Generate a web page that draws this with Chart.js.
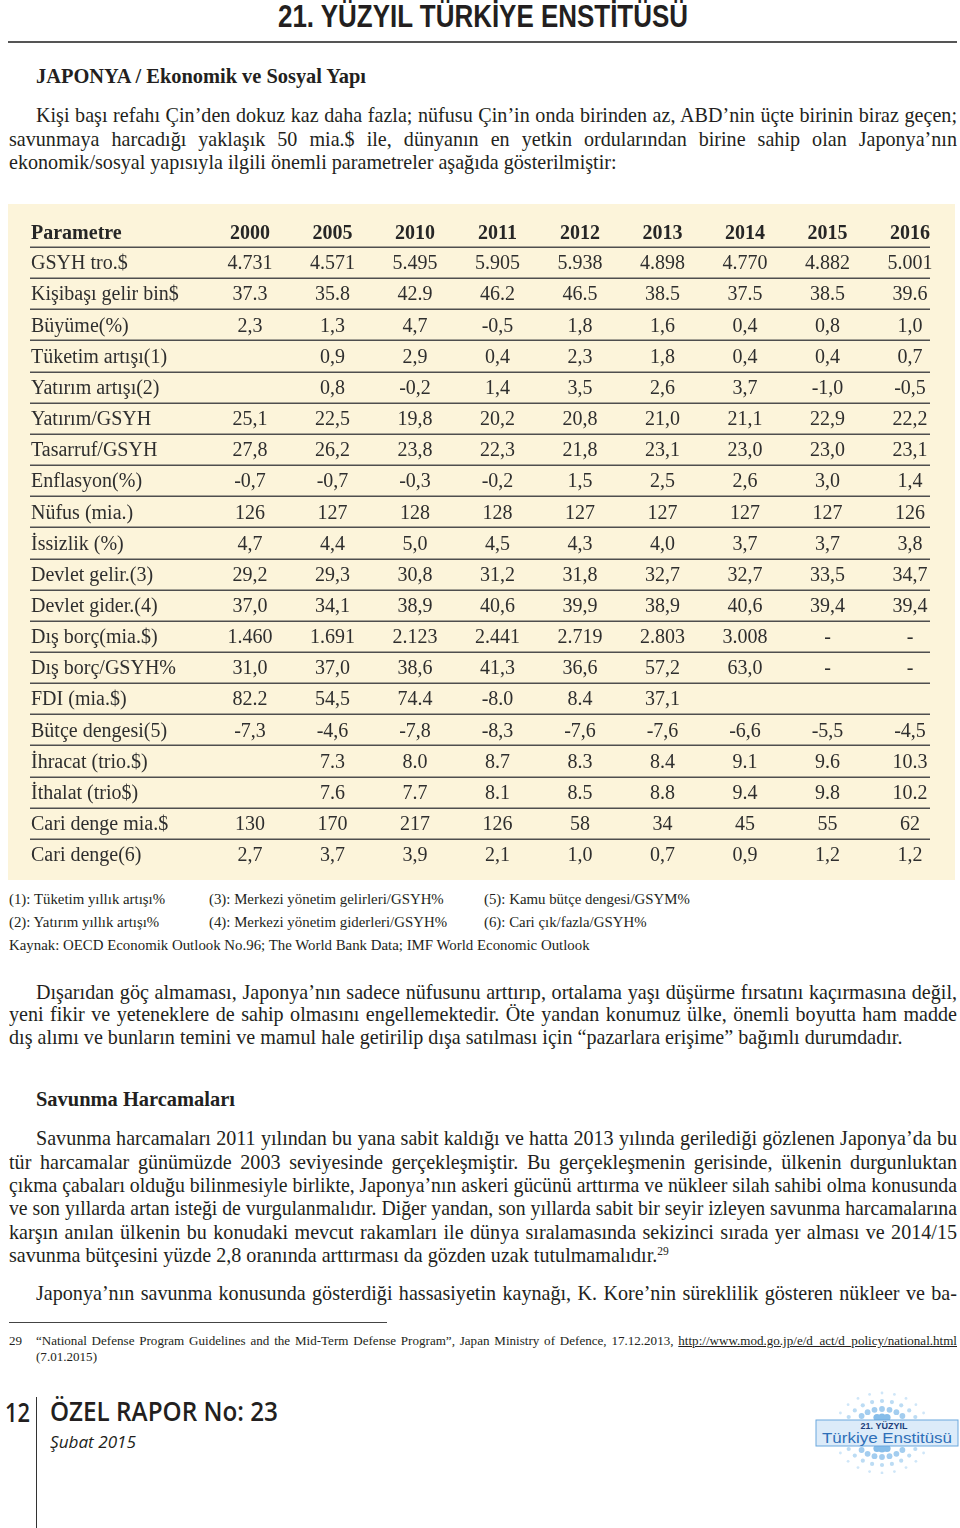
<!DOCTYPE html>
<html><head><meta charset="utf-8">
<script src="https://cdn.jsdelivr.net/npm/chart.js@4.4.1/dist/chart.umd.min.js"></script>
<style>
html,body{margin:0;padding:0;background:#fff;}
body{width:960px;height:1528px;position:relative;overflow:hidden;color:#231f20;}
.ln{position:absolute;white-space:nowrap;transform-origin:0 50%;font-family:'Liberation Serif','Times New Roman',serif;}
.p{font-size:21px;line-height:24px;}
.h{font-size:21px;line-height:24px;font-weight:bold;}
.fn{font-size:15px;line-height:18px;}
.f29{font-size:13.5px;line-height:16px;}
.sans{font-family:'Open Sans','Liberation Sans',sans-serif;}
#title{font-family:'Liberation Sans',Arial,sans-serif;font-weight:bold;font-size:31px;line-height:34px;}
#rule1{position:absolute;left:8px;top:41px;width:949px;height:2px;background:#555;}
#rule2{position:absolute;left:9px;top:1322px;width:378px;height:1px;background:#444;}
#vline{position:absolute;left:36px;top:1397px;width:1px;height:131px;background:#333;}
#tbl{position:absolute;left:8px;top:204px;width:947px;height:676px;background:#fcf4da;}
sup{font-size:12px;vertical-align:7px;line-height:0;}
a{color:#231f20;text-decoration:underline;}
#logo{position:absolute;left:812px;top:1390px;}
</style></head>
<body>
<div class="ln" id="title" data-x="278" data-y="17" data-fit="410">21. YÜZYIL TÜRKİYE ENSTİTÜSÜ</div>
<div id="rule1"></div>

<div class="ln h" data-x="36" data-y="76" data-fit="330">JAPONYA / Ekonomik ve Sosyal Yapı</div>

<div class="ln p" data-g="p" data-x="36" data-y="115" data-w="921">Kişi başı refahı Çin’den dokuz kaz daha fazla; nüfusu Çin’in onda birinden az, ABD’nin üçte birinin biraz geçen;</div>
<div class="ln p" data-g="p" data-x="9" data-y="139" data-w="948">savunmaya harcadığı yaklaşık 50 mia.$ ile, dünyanın en yetkin ordularından birine sahip olan Japonya’nın</div>
<div class="ln p" data-g="p" data-x="9" data-y="162" data-ref="588">ekonomik/sosyal yapısıyla ilgili önemli parametreler aşağıda gösterilmiştir:</div>

<div id="tbl"><canvas id="chart" width="947" height="676"></canvas></div>

<div class="ln fn" data-g="fn" data-x="9" data-y="899">(1): Tüketim yıllık artışı%</div>
<div class="ln fn" data-g="fn" data-x="209" data-y="899" data-ref="235">(3): Merkezi yönetim gelirleri/GSYH%</div>
<div class="ln fn" data-g="fn" data-x="484" data-y="899">(5): Kamu bütçe dengesi/GSYM%</div>
<div class="ln fn" data-g="fn" data-x="9" data-y="922">(2): Yatırım yıllık artışı%</div>
<div class="ln fn" data-g="fn" data-x="209" data-y="922">(4): Merkezi yönetim giderleri/GSYH%</div>
<div class="ln fn" data-g="fn" data-x="484" data-y="922">(6): Cari çık/fazla/GSYH%</div>
<div class="ln fn" data-g="fn" data-x="9" data-y="945" data-ref="580">Kaynak: OECD Economik Outlook No.96; The World Bank Data; IMF World Economic Outlook</div>

<div class="ln p" data-g="p" data-x="36" data-y="992" data-w="921">Dışarıdan göç almaması, Japonya’nın sadece nüfusunu arttırıp, ortalama yaşı düşürme fırsatını kaçırmasına değil,</div>
<div class="ln p" data-g="p" data-x="9" data-y="1014" data-w="948">yeni fikir ve yeteneklere de sahip olmasını engellemektedir. Öte yandan konumuz ülke, önemli boyutta ham madde</div>
<div class="ln p" data-g="p" data-x="9" data-y="1037" data-ref="907">dış alımı ve bunların temini ve mamul hale getirilip dışa satılması için “pazarlara erişime” bağımlı durumdadır.</div>

<div class="ln h" data-x="36" data-y="1099" data-fit="199">Savunma Harcamaları</div>

<div class="ln p" data-g="p" data-x="36" data-y="1138" data-w="921">Savunma harcamaları 2011 yılından bu yana sabit kaldığı ve hatta 2013 yılında gerilediği gözlenen Japonya’da bu</div>
<div class="ln p" data-g="p" data-x="9" data-y="1162" data-w="948">tür harcamalar günümüzde 2003 seviyesinde gerçekleşmiştir. Bu gerçekleşmenin gerisinde, ülkenin durgunluktan</div>
<div class="ln p" data-g="p" data-x="9" data-y="1185" data-w="948">çıkma çabaları olduğu bilinmesiyle birlikte, Japonya’nın askeri gücünü arttırma ve nükleer silah sahibi olma konusunda</div>
<div class="ln p" data-g="p" data-x="9" data-y="1208" data-w="948">ve son yıllarda artan isteği de vurgulanmalıdır. Diğer yandan, son yıllarda sabit bir seyir izleyen savunma harcamalarına</div>
<div class="ln p" data-g="p" data-x="9" data-y="1232" data-w="948">karşın anılan ülkenin bu konudaki mevcut rakamları ile dünya sıralamasında sekizinci sırada yer alması ve 2014/15</div>
<div class="ln p" data-g="p" data-x="9" data-y="1255" data-ref="671">savunma bütçesini yüzde 2,8 oranında arttırması da gözden uzak tutulmamalıdır.<sup>29</sup></div>

<div class="ln p" data-g="p" data-x="36" data-y="1293" data-w="921">Japonya’nın savunma konusunda gösterdiği hassasiyetin kaynağı, K. Kore’nin süreklilik gösteren nükleer ve ba-</div>

<div id="rule2"></div>
<div class="ln f29" data-g="f29" data-x="9" data-y="1341">29</div>
<div class="ln f29" data-g="f29" data-x="36" data-y="1341" data-w="921">“National Defense Program Guidelines and the Mid-Term Defense Program”, Japan Ministry of Defence, 17.12.2013, <a>http://www.mod.go.jp/e/d_act/d_policy/national.html</a></div>
<div class="ln f29" data-g="f29" data-x="36" data-y="1357" data-ref="61">(7.01.2015)</div>

<div class="ln sans" style="font-weight:600;font-size:27px;line-height:32px;" data-x="5" data-y="1412" data-fit="25">12</div>
<div id="vline"></div>
<div class="ln sans" style="font-weight:600;font-size:27px;line-height:32px;" data-x="50" data-y="1411" data-fit="228">ÖZEL RAPOR No: 23</div>
<div class="ln sans" style="font-style:italic;font-size:17px;line-height:22px;" data-x="50" data-y="1442" data-fit="86">Şubat 2015</div>

<svg id="logo" width="148" height="84" viewBox="0 0 148 84"></svg>

<script>
// ---------- table data ----------
const years = ['2000','2005','2010','2011','2012','2013','2014','2015','2016'];
const params = ['GSYH tro.$','Kişibaşı gelir bin$','Büyüme(%)','Tüketim artışı(1)','Yatırım artışı(2)','Yatırım/GSYH','Tasarruf/GSYH','Enflasyon(%)','Nüfus (mia.)','İssizlik (%)','Devlet gelir.(3)','Devlet gider.(4)','Dış borç(mia.$)','Dış borç/GSYH%','FDI (mia.$)','Bütçe dengesi(5)','İhracat (trio.$)','İthalat (trio$)','Cari denge mia.$','Cari denge(6)'];
const headerLabel = 'Parametre';
const gsyh        = ['4.731','4.571','5.495','5.905','5.938','4.898','4.770','4.882','5.001'];
const kisibasi    = ['37.3','35.8','42.9','46.2','46.5','38.5','37.5','38.5','39.6'];
const buyume      = ['2,3','1,3','4,7','-0,5','1,8','1,6','0,4','0,8','1,0'];
const tuketim     = ['','0,9','2,9','0,4','2,3','1,8','0,4','0,4','0,7'];
const yatirimArt  = ['','0,8','-0,2','1,4','3,5','2,6','3,7','-1,0','-0,5'];
const yatirimGsyh = ['25,1','22,5','19,8','20,2','20,8','21,0','21,1','22,9','22,2'];
const tasarruf    = ['27,8','26,2','23,8','22,3','21,8','23,1','23,0','23,0','23,1'];
const enflasyon   = ['-0,7','-0,7','-0,3','-0,2','1,5','2,5','2,6','3,0','1,4'];
const nufus       = ['126','127','128','128','127','127','127','127','126'];
const issizlik    = ['4,7','4,4','5,0','4,5','4,3','4,0','3,7','3,7','3,8'];
const devletGelir = ['29,2','29,3','30,8','31,2','31,8','32,7','32,7','33,5','34,7'];
const devletGider = ['37,0','34,1','38,9','40,6','39,9','38,9','40,6','39,4','39,4'];
const disBorc     = ['1.460','1.691','2.123','2.441','2.719','2.803','3.008','-','-'];
const disBorcGsyh = ['31,0','37,0','38,6','41,3','36,6','57,2','63,0','-','-'];
const fdi         = ['82.2','54,5','74.4','-8.0','8.4','37,1','','',''];
const butce       = ['-7,3','-4,6','-7,8','-8,3','-7,6','-7,6','-6,6','-5,5','-4,5'];
const ihracat     = ['','7.3','8.0','8.7','8.3','8.4','9.1','9.6','10.3'];
const ithalat     = ['','7.6','7.7','8.1','8.5','8.8','9.4','9.8','10.2'];
const cariMia     = ['130','170','217','126','58','34','45','55','62'];
const cariOran    = ['2,7','3,7','3,9','2,1','1,0','0,7','0,9','1,2','1,2'];
const rows = [gsyh,kisibasi,buyume,tuketim,yatirimArt,yatirimGsyh,tasarruf,enflasyon,nufus,issizlik,devletGelir,devletGider,disBorc,disBorcGsyh,fdi,butce,ihracat,ithalat,cariMia,cariOran];

// ---------- text layout helpers ----------
function layoutText(){
  const els = Array.from(document.querySelectorAll('.ln'));
  const groups = {};
  els.forEach(el=>{ el.style.left = el.dataset.x+'px'; el.style.top='0px'; });
  els.forEach(el=>{
    const g = el.dataset.g; if(!g) return;
    groups[g] = groups[g] || [];
    if(el.dataset.ref){ groups[g].push(parseFloat(el.dataset.ref)/el.getBoundingClientRect().width); }
  });
  const k = {};
  Object.keys(groups).forEach(g=>{ const a=groups[g]; k[g]= a.reduce((s,v)=>s+v,0)/a.length; });
  els.forEach(el=>{
    const w = el.getBoundingClientRect().width;
    const h = el.getBoundingClientRect().height;
    let s = 1;
    if(el.dataset.fit){ s = parseFloat(el.dataset.fit)/w; }
    else if(el.dataset.g){
      s = k[el.dataset.g];
      if(el.dataset.w){
        const target = parseFloat(el.dataset.w);
        const n = (el.textContent.trim().match(/ /g)||[]).length;
        const extra = target/s - w;
        if(extra >= 0 && n>0){ el.style.wordSpacing = (extra/n)+'px'; }
        else { s = target/w; }
      }
    }
    el.style.transform = 'scaleX('+s+')';
    el.style.top = (parseFloat(el.dataset.y) - h/2)+'px';
  });
}

// ---------- logo ----------
function drawLogo(){
  const svg = document.getElementById('logo');
  const cx = 70, cy = 43;
  let html = '';
  for(let a=-165; a<=165; a+=15){
    if(Math.abs(a)<20 || Math.abs(a)>160) continue;
    const rad = a*Math.PI/180;
    for(let i=0;i<4;i++){
      const r = 16 + i*8;
      const x = cx + Math.cos(rad)*r*1.2, y = cy + Math.sin(rad)*r;
      if(y>28 && y<58) continue;
      const rr = [3.6,2.9,2.1,1.4][i];
      const col = ['#86bde9','#a3cdef','#bcdcf4','#cfe6f8'][i];
      html += '<circle cx="'+x.toFixed(1)+'" cy="'+y.toFixed(1)+'" r="'+rr+'" fill="'+col+'"/>';
    }
  }
  html += '<rect x="4" y="30" width="142" height="26" fill="#dcebf9" stroke="#6aa7dd" stroke-width="1"/>';
  html += '<text x="72" y="39" text-anchor="middle" font-family="Liberation Sans, Arial" font-weight="bold" font-size="9" fill="#1d3f7c">21. YÜZYIL</text>';
  html += '<text x="75" y="52.5" text-anchor="middle" font-family="Liberation Sans, Arial" font-size="15" fill="#2e6fb8" textLength="130" lengthAdjust="spacingAndGlyphs">Türkiye Enstitüsü</text>';
  svg.innerHTML = html;
}

// ---------- table chart ----------
const tableFont = "'Liberation Serif','Times New Roman',serif";
const textShift = 1.5;
const cellPlugin = {
  id:'cellPlugin',
  afterDatasetsDraw(chart){
    const c = chart.ctx, ys = chart.scales.y, xs = chart.scales.x, area = chart.chartArea;
    c.save();
    const half = (ys.getPixelForValue(1) - ys.getPixelForValue(0))/2;
    c.strokeStyle = '#4e4e4e'; c.lineWidth = 1.6;
    for(let i=0;i<params.length;i++){
      const yy = Math.round(ys.getPixelForValue(i) - half) + 0.2;
      c.beginPath(); c.moveTo(ys.left - 1, yy); c.lineTo(area.right + 20, yy); c.stroke();
    }
    c.fillStyle = '#262626';
    c.font = 'bold 20px ' + tableFont;
    c.textAlign = 'left'; c.textBaseline = 'middle';
    const hy = xs.bottom - 1.5 - 12;
    c.fillText(headerLabel, ys.left, hy);
    c.font = '20px ' + tableFont;
    c.textAlign = 'center';
    c.fillStyle = '#2e2e2e';
    chart.data.datasets.forEach((ds, di)=>{
      const meta = chart.getDatasetMeta(di);
      meta.data.forEach((pt, j)=>{
        const t = rows[di][j];
        if(t) c.fillText(t, pt.x, pt.y + textShift);
      });
    });
    c.restore();
  }
};

function drawTable(){
  const datasets = params.map((p)=>({
    label: p,
    data: years.map(yr=>({x: yr, y: p})),
    pointRadius: 0, pointHoverRadius: 0, showLine: false
  }));
  new Chart(document.getElementById('chart'), {
    type: 'scatter',
    data: { datasets },
    options: {
      responsive: false, animation: false, events: [],
      layout: { padding: { left: 23, right: 45, top: 0, bottom: 10 } },
      plugins: { legend: { display: false }, tooltip: { enabled: false } },
      scales: {
        x: {
          type: 'category', labels: years, position: 'top', offset: false,
          grid: { display: false, drawTicks: false }, border: { display: false },
          ticks: { font: { family: tableFont, size: 20, weight: 'bold' }, color: '#262626', padding: 1.5, autoSkip: false, maxRotation: 0 },
          afterFit(s){ s.height = 43; }
        },
        y: {
          type: 'category', labels: params, offset: true,
          grid: { display: false, drawTicks: false }, border: { display: false },
          ticks: { crossAlign: 'far', font: { family: tableFont, size: 20, lineHeight: 1 }, color: '#2e2e2e', padding: 0, autoSkip: false, labelOffset: textShift },
          afterFit(s){ s.width = 219; }
        }
      }
    },
    plugins: [cellPlugin]
  });
}

layoutText();
drawLogo();
drawTable();
</script>
</body></html>
